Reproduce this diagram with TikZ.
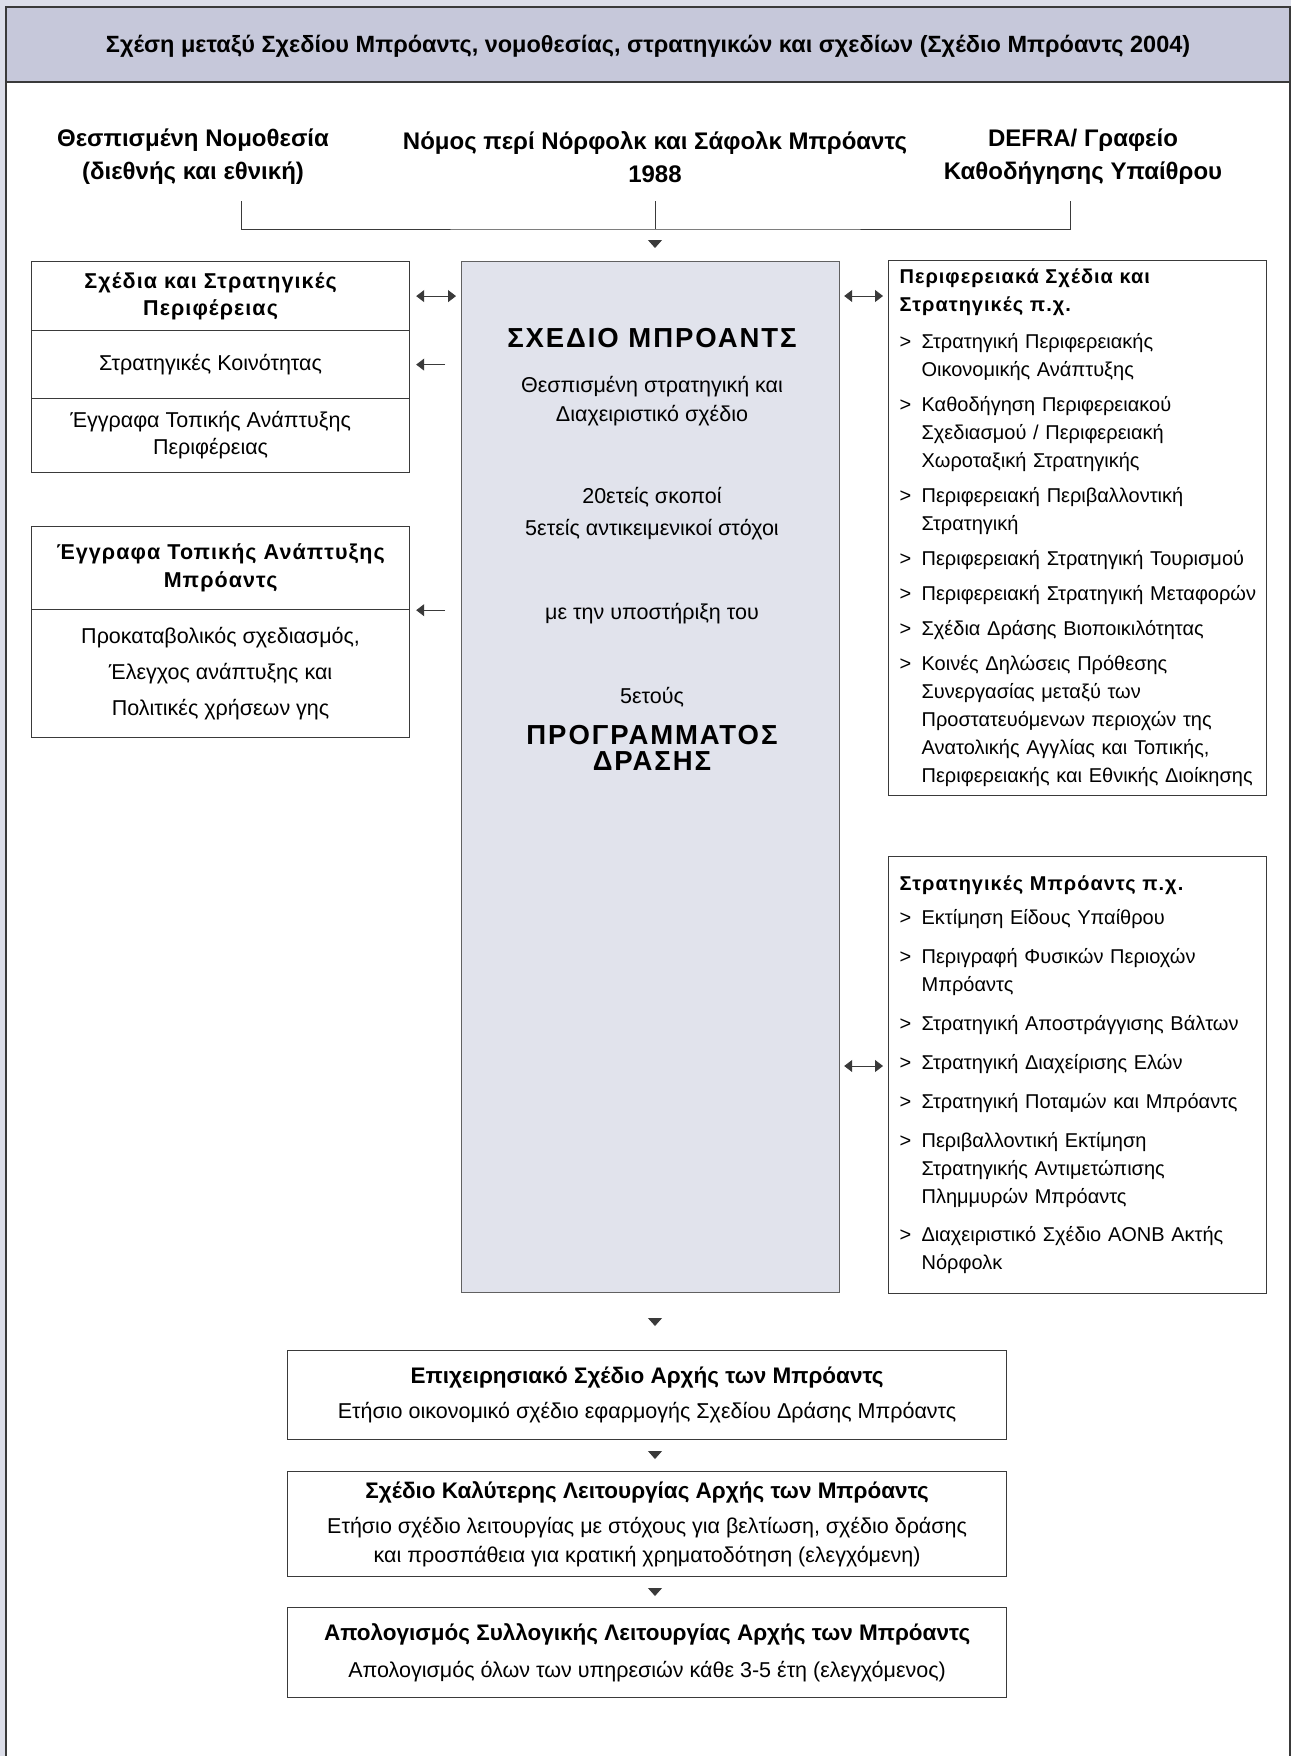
\documentclass[tikz,border=0pt]{standalone}
\usepackage{fontspec}
\setmainfont{Liberation Sans}
\usetikzlibrary{arrows.meta}
\usetikzlibrary{calc}
\usetikzlibrary{positioning}

\definecolor{pagebg}{HTML}{DCDEE9}
\definecolor{headfill}{HTML}{C6C8DA}
\definecolor{planfill}{HTML}{E1E3EC}
\definecolor{edge}{HTML}{3A3A3A}

\newcommand{\bodyfont}{\fontsize{21.5}{27}\selectfont}
\newcommand{\spaced}[1]{{\bfseries\addfontfeature{LetterSpace=5}#1}}
\newcommand{\bulline}[1]{\mbox{\makebox[22pt][l]{>}#1}}
\newcommand{\indline}[1]{\mbox{\hspace*{22pt}#1}}
\newcommand{\lpad}{\hspace*{20pt}}

\begin{document}
\begin{tikzpicture}[x=1pt, y=-1pt,
    every node/.style={font=\bodyfont},
    plainbox/.style={draw=edge, line width=1.2pt, anchor=north west, inner sep=0pt, align=center},
    textonly/.style={align=center, inner sep=0pt},
    feedline/.style={draw=edge, line width=0.9pt},
    twoway/.style={{Triangle[length=8pt,width=12pt]}-{Triangle[length=8pt,width=12pt]}, draw=edge, line width=0.9pt},
    oneway/.style={-{Triangle[length=8pt,width=12pt]}, draw=edge, line width=0.9pt},
    downtip/.style={-{Triangle[length=8pt,width=14pt]}, draw=edge, line width=0.9pt}]
  \useasboundingbox (0,0) rectangle (1291,1756);

  % page, frame and heading band
  \fill[pagebg] (0,0) rectangle (1291,1756);
  \filldraw[fill=white, draw=edge, line width=1.5pt] (6,1780) -- (6,7) -- (1290,7) -- (1290,1780);
  \filldraw[fill=headfill, draw=edge, line width=1.5pt] (6,7) rectangle (1290,82);
  \node[textonly, font=\bfseries\fontsize{23.5}{28}\selectfont] (title) at (648,46)
    {Σχέση μεταξύ Σχεδίου Μπρόαντς, νομοθεσίας, στρατηγικών και σχεδίων (Σχέδιο Μπρόαντς 2004)};

  % sources at the top
  \node[textonly, font=\bfseries\fontsize{24}{33}\selectfont] (legis) at (193,157)
    {Θεσπισμένη Νομοθεσία\\(διεθνής και εθνική)};
  \node[textonly, font=\bfseries\fontsize{24}{33}\selectfont] (act) at (655,157)
    {Νόμος περί Νόρφολκ και Σάφολκ Μπρόαντς\\1988};
  \node[textonly, font=\bfseries\fontsize{24}{33}\selectfont] (defra) at (1083,157)
    {DEFRA/ Γραφείο\\Καθοδήγησης Υπαίθρου};

  \coordinate (legisfoot) at (241,201);
  \coordinate (actfoot) at (655,201);
  \coordinate (defrafoot) at (1070,201);
  \coordinate (join) at (655,229);

  % central plan
  \node[plainbox, fill=planfill, draw=edge!80, minimum width=378, minimum height=1031] (plan) at (461,261) {};
  \node[textonly, font=\fontsize{27.5}{26}\selectfont\bfseries\addfontfeature{LetterSpace=7}] (plantitle) at (652,338) {ΣΧΕΔΙΟ ΜΠΡΟΑΝΤΣ};
  \node[textonly, font=\fontsize{21.5}{29}\selectfont] (plandesc) at (652,401) {Θεσπισμένη στρατηγική και\\Διαχειριστικό σχέδιο};
  \node[textonly, font=\fontsize{21.5}{32}\selectfont] (plangoals) at (652,514) {20ετείς σκοποί\\5ετείς αντικειμενικοί στόχοι};
  \node[textonly] (plansupport) at (652,614) {με την υποστήριξη του};
  \node[textonly] (planyears) at (652,697) {5ετούς};
  \node[textonly, font=\fontsize{27.5}{26}\selectfont\bfseries\addfontfeature{LetterSpace=7}] (planprog) at (652,748) {ΠΡΟΓΡΑΜΜΑΤΟΣ\\ΔΡΑΣΗΣ};

  % left column
  \node[plainbox, minimum width=378, minimum height=69] (regplans) at (31,261)
    {\spaced{Σχέδια και Στρατηγικές}\lpad\\\spaced{Περιφέρειας}\lpad};
  \node[plainbox, minimum width=378, minimum height=68] (commstrat) at (31,330) {Στρατηγικές Κοινότητας\lpad};
  \node[plainbox, minimum width=378, minimum height=74] (regldd) at (31,398)
    {Έγγραφα Τοπικής Ανάπτυξης\lpad\\Περιφέρειας\lpad};
  \node[plainbox, minimum width=378, minimum height=83, font=\fontsize{21.5}{28}\selectfont] (bldd) at (31,526)
    {\spaced{Έγγραφα Τοπικής Ανάπτυξης}\\\spaced{Μπρόαντς}};
  \node[plainbox, minimum width=378, minimum height=128, font=\fontsize{21.5}{36}\selectfont] (blddbody) at (31,609)
    {Προκαταβολικός σχεδιασμός,\\Έλεγχος ανάπτυξης και\\Πολιτικές χρήσεων γης};

  % right column
  \node[plainbox, align=left, text width=356, inner xsep=11, minimum height=535, font=\fontsize{20}{28}\selectfont] (regstrat) at (888,260)
    {\mbox{\spaced{Περιφερειακά Σχέδια και}}\\
     \mbox{\spaced{Στρατηγικές π.χ.}}\\[9pt]
     \bulline{Στρατηγική Περιφερειακής}\\
     \indline{Οικονομικής Ανάπτυξης}\\[7pt]
     \bulline{Καθοδήγηση Περιφερειακού}\\
     \indline{Σχεδιασμού / Περιφερειακή}\\
     \indline{Χωροταξική Στρατηγικής}\\[7pt]
     \bulline{Περιφερειακή Περιβαλλοντική}\\
     \indline{Στρατηγική}\\[7pt]
     \bulline{Περιφερειακή Στρατηγική Τουρισμού}\\[7pt]
     \bulline{Περιφερειακή Στρατηγική Μεταφορών}\\[7pt]
     \bulline{Σχέδια Δράσης Βιοποικιλότητας}\\[7pt]
     \bulline{Κοινές Δηλώσεις Πρόθεσης}\\
     \indline{Συνεργασίας μεταξύ των}\\
     \indline{Προστατευόμενων περιοχών της}\\
     \indline{Ανατολικής Αγγλίας και Τοπικής,}\\
     \indline{Περιφερειακής και Εθνικής Διοίκησης}};
  \node[plainbox, align=left, text width=356, inner xsep=11, minimum height=437, font=\fontsize{20}{28}\selectfont] (broadsstrat) at (888,856)
    {\mbox{\spaced{Στρατηγικές Μπρόαντς π.χ.}}\\[6pt]
     \bulline{Εκτίμηση Είδους Υπαίθρου}\\[11pt]
     \bulline{Περιγραφή Φυσικών Περιοχών}\\
     \indline{Μπρόαντς}\\[11pt]
     \bulline{Στρατηγική Αποστράγγισης Βάλτων}\\[11pt]
     \bulline{Στρατηγική Διαχείρισης Ελών}\\[11pt]
     \bulline{Στρατηγική Ποταμών και Μπρόαντς}\\[11pt]
     \bulline{Περιβαλλοντική Εκτίμηση}\\
     \indline{Στρατηγικής Αντιμετώπισης}\\
     \indline{Πλημμυρών Μπρόαντς}\\[10pt]
     \bulline{Διαχειριστικό Σχέδιο AONB Ακτής}\\
     \indline{Νόρφολκ}};

  % chain below the plan
  \node[plainbox, minimum width=719, minimum height=89, font=\fontsize{21.5}{35}\selectfont] (ops) at (287,1350)
    {{\bfseries\fontsize{22.5}{35}\selectfont Επιχειρησιακό Σχέδιο Αρχής των Μπρόαντς}\\
     Ετήσιο οικονομικό σχέδιο εφαρμογής Σχεδίου Δράσης Μπρόαντς};
  \node[plainbox, minimum width=719, minimum height=105, font=\fontsize{21.5}{29}\selectfont] (best) at (287,1471)
    {{\bfseries\fontsize{22.5}{29}\selectfont Σχέδιο Καλύτερης Λειτουργίας Αρχής των Μπρόαντς}\\[6pt]
     Ετήσιο σχέδιο λειτουργίας με στόχους για βελτίωση, σχέδιο δράσης\\
     και προσπάθεια για κρατική χρηματοδότηση (ελεγχόμενη)};
  \node[plainbox, minimum width=719, minimum height=90, font=\fontsize{21.5}{37}\selectfont] (review) at (287,1607)
    {{\bfseries\fontsize{22.5}{37}\selectfont Απολογισμός Συλλογικής Λειτουργίας Αρχής των Μπρόαντς}\\
     Απολογισμός όλων των υπηρεσιών κάθε 3-5 έτη (ελεγχόμενος)};

  % connectors
  \path [feedline] (legisfoot) |- (join) -| (defrafoot);
  \path [feedline] (actfoot) -- (join);
  \draw [downtip, shorten <=11pt, shorten >=13pt] (join) -- (join |- plan.north);

  \path (regplans.east) edge [twoway, shorten <=6pt, shorten >=5pt] (plan.west |- regplans.east)
        (plan.west |- commstrat.east) edge [oneway, shorten <=16pt, shorten >=6pt] (commstrat.east)
        (plan.west |- bldd.south east) edge [oneway, shorten <=16pt, shorten >=6pt] (bldd.south east);

  \path (plan.east |- regstrat.north west) ++(0,36) coordinate (regfoot)
        (plan.east |- broadsstrat.north west) ++(0,210) coordinate (broadsfoot);
  \path (regfoot) edge [twoway, shorten <=4pt, shorten >=5pt] (regfoot -| regstrat.west)
        (broadsfoot) edge [twoway, shorten <=4pt, shorten >=5pt] (broadsfoot -| broadsstrat.west);

  \path (join |- plan.south) edge [downtip, shorten <=27pt, shorten >=24pt] (join |- ops.north)
        (join |- ops.south) edge [downtip, shorten <=12pt, shorten >=12pt] (join |- best.north)
        (join |- best.south) edge [downtip, shorten <=12pt, shorten >=11pt] (join |- review.north);
\end{tikzpicture}
\end{document}
